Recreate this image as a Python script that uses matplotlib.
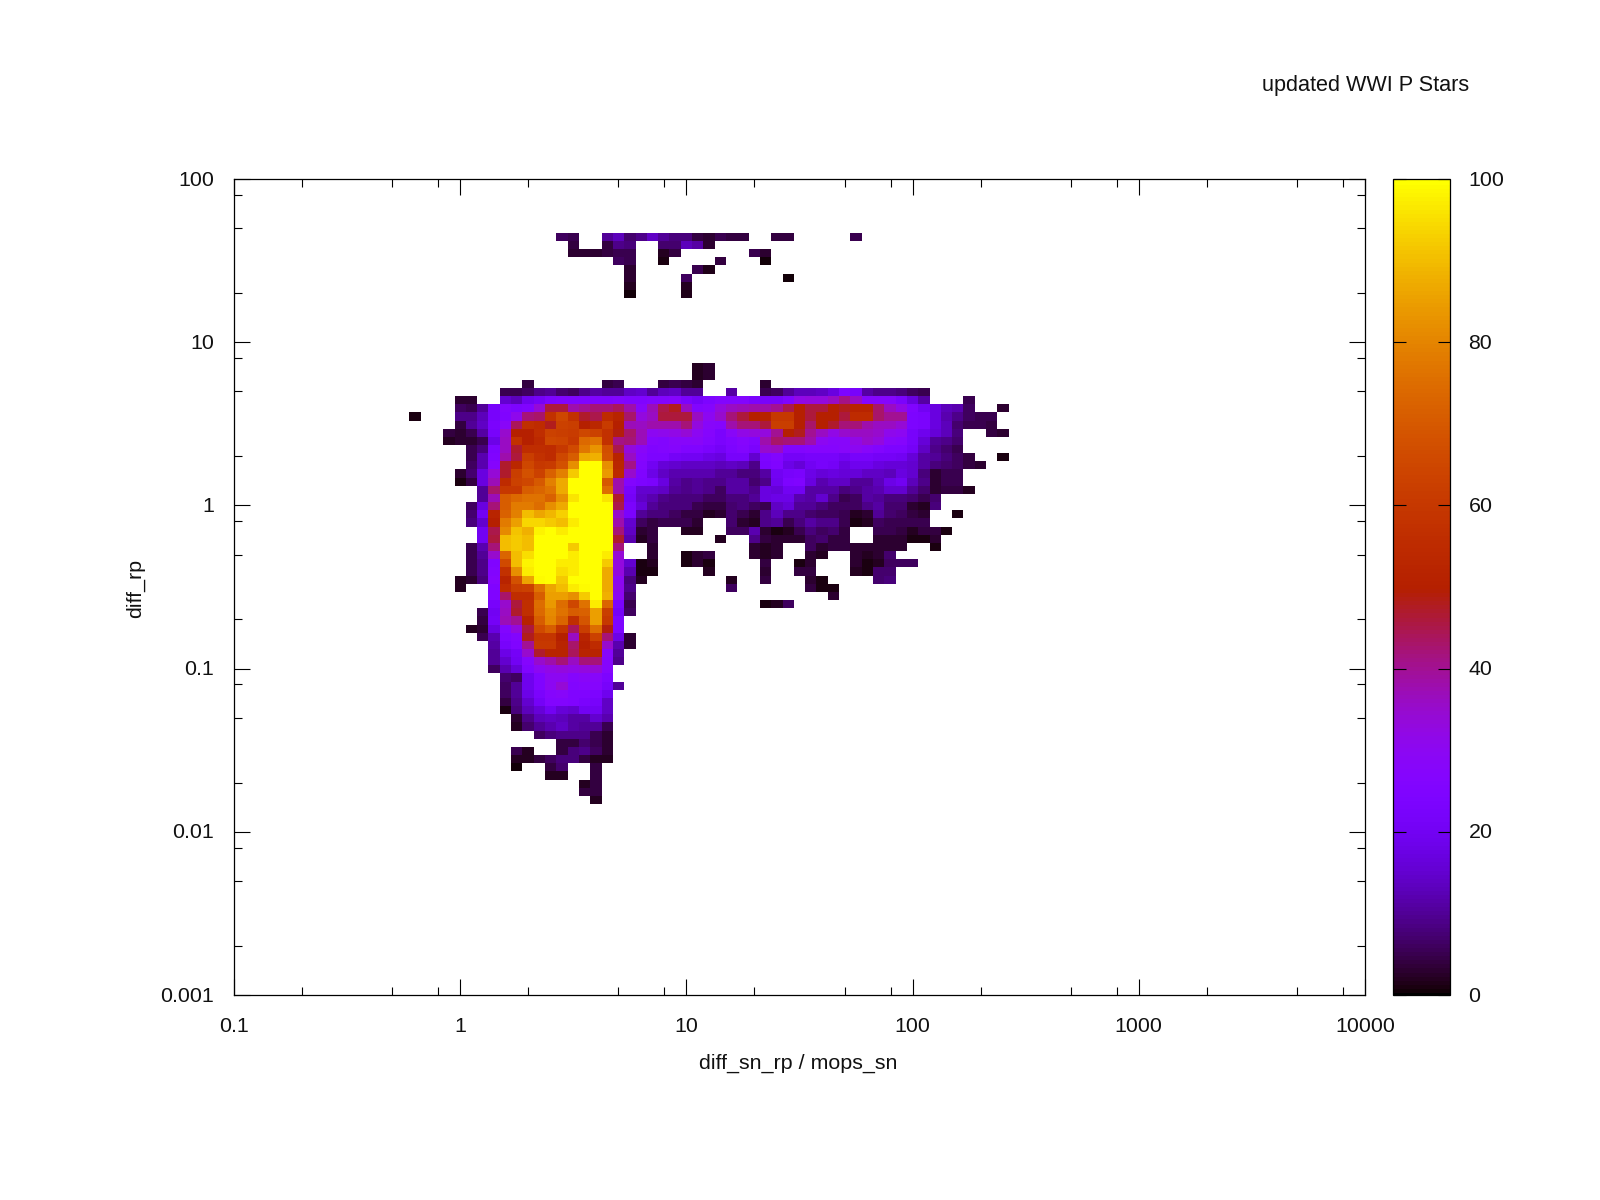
import numpy as np
import matplotlib
matplotlib.use("Agg")
import matplotlib.pyplot as plt
from matplotlib.colors import ListedColormap
from matplotlib.ticker import FixedLocator, NullFormatter
from matplotlib.transforms import ScaledTranslation

plt.rcParams['font.family'] = ['Liberation Sans', 'DejaVu Sans']

title_text = "updated WWI P Stars"
x_label = "diff_sn_rp / mops_sn"
y_label = "diff_rp"
x_ticks = [0.1, 1, 10, 100, 1000, 10000]
x_tick_labels = ["0.1", "1", "10", "100", "1000", "10000"]
y_ticks = [0.001, 0.01, 0.1, 1, 10, 100]
y_tick_labels = ["0.001", "0.01", "0.1", "1", "10", "100"]
cb_ticks = [0, 20, 40, 60, 80, 100]

n_cols = 70
n_rows = 100
bins_per_decade = 20
x_bin_shift = 0.5
y_bin_shift = 0.4

# each row: first column index, then the values; 0 is an empty cell
r92 = (28, [6,5,0,0,10,13,7,9,14,10,8,8,4,3,5,4,4,0,0,4,4,0,0,0,0,0,5])
r91 = (29, [4,0,0,4,9,8,0,0,7,7,13,11,3])
r90 = (29, [3,3,3,4,5,5,0,0,2,4,0,0,0,0,0,0,5,3])
r89 = (33, [6,5,0,0,1,0,0,0,0,4,0,0,0,0.5])
r88 = (34, [3,0,0,0,0,0,5,1.5])
r87 = (34, [3,0,0,0,0,6,0,0,0,0,0,0,0,0,0.5])
r86 = (34, [2,0,0,0,0,2])
r85 = (34, [0.5,0,0,0,0,1.5])
r76 = (40, [2,3])
r75 = (40, [2,3])
r74 = (25, [4,0,0,0,0,0,0,4,5,0,0,0,4,5,4,3,0,0,0,0,0,3])
r73 = (23, [5,5,6,9,10,7,6,9,11,10,10,14,15,10,13,14,10,10,0,0,11,0,0,5,6,10,13,13,14,17,24,22,11,9,9,8,6,5])
r72 = (19, [3,3,0,0,15,13,19,21,24,25,25,25,25,25,26,25,25,26,26,27,23,21,24,26,26,26,23,22,22,25,32,33,33,36,41,36,27,27,27,23,17,11,0,0,0,5])
r71 = (19, [6,5,10,22,26,24,25,34,46,46,38,40,42,42,44,38,28,37,45,48,36,26,27,33,36,37,38,38,40,45,50,46,46,50,48,52,52,43,36,32,25,20,17,13,12,6,0,0,3])
r70 = (15, [1,0,0,0,9,9,13,22,25,31,42,43,58,65,58,47,45,55,52,43,33,36,46,46,46,36,30,35,42,46,50,51,60,60,50,46,50,50,46,55,55,43,40,40,24,23,17,12,9,6,5,5])
r69 = (19, [4,10,14,23,29,44,57,55,48,63,62,50,53,61,50,37,36,38,38,38,42,33,28,27,38,42,42,46,62,62,50,43,50,47,42,42,38,36,36,34,24,23,17,13,7,5,5,4])
r68 = (18, [4,3,5,11,22,35,50,50,56,63,62,61,65,63,58,49,43,37,30,31,32,34,30,27,23,29,32,33,33,40,50,48,40,36,32,35,36,36,35,31,30,22,19,16,13,8,0,0,4,3])
r67 = (18, [2,3,3,5,18,36,58,50,54,65,64,60,74,76,58,41,42,37,27,26,28,28,29,26,23,25,27,25,38,43,42,42,38,30,28,28,32,35,33,28,27,22,16,10,9,7])
r66 = (20, [5,8,24,36,47,56,56,55,60,66,77,83,67,45,33,29,25,26,27,25,25,23,21,24,26,23,35,36,26,26,27,27,27,28,30,28,26,24,24,21,14,9,7,5])
r65 = (20, [5,12,25,38,46,62,58,55,65,71,87,88,68,52,36,27,24,24,21,20,20,18,17,22,22,15,24,26,21,21,22,22,22,20,22,22,21,21,20,16,11,10,8,6,4,0,0,1])
r64 = (20, [6,12,27,47,53,65,60,61,68,82,100,100,82,53,41,26,20,16,15,14,14,14,13,14,13,9,23,25,18,16,20,22,21,17,19,19,17,16,16,15,11,8,7,6,4,3])
r63 = (19, [3,7,17,34,47,62,68,63,72,79,92,100,100,84,54,35,25,18,14,12,12,12,12,10,10,8,8,11,20,22,23,18,16,17,16,16,14,14,13,17,15,8,3,5,5])
r62 = (19, [1,4,17,37,55,63,65,70,79,87,100,100,100,70,38,26,24,23,17,11,9,10,9,9,11,11,7,9,19,24,25,17,12,14,14,10,10,13,18,20,13,9,3,5,5])
r61 = (21, [10,43,60,60,71,73,76,87,100,100,100,75,38,22,15,15,14,10,9,10,9,6,11,11,9,17,16,20,20,11,11,11,8,9,11,12,15,15,10,7,3,4,4,2])
r60 = (21, [10,37,71,74,76,76,72,82,96,100,100,96,47,21,14,12,9,8,8,8,6,6,8,8,10,17,18,18,12,11,15,9,5,6,11,10,8,8,7,5,7])
r59 = (20, [6,17,42,71,78,78,75,82,87,100,100,100,100,45,23,16,10,8,8,8,5,4,4,7,8,6,5,14,16,10,10,8,6,6,6,9,11,7,7,3,2,8])
r58 = (20, [7,20,52,72,79,90,86,89,93,100,100,100,100,35,23,10,8,8,6,4,4,2,3,7,5,3,9,13,9,9,7,6,6,5,2,3,10,7,6,4,3,0,0,1])
r57 = (20, [8,15,50,78,85,94,94,92,90,97,100,100,100,38,15,6,4,5,5,5,3,0,0,7,3,2,9,10,5,8,11,9,9,5,1,2,6,5,5,5,5])
r56 = (21, [20,45,81,91,88,98,100,97,100,100,100,100,42,14,3,4,0,0,2,2,0,0,6,6,12,3,1,2,5,8,6,7,4,0,0,5,5,4,2,4,4,1])
r55 = (21, [20,46,90,92,90,100,100,100,100,100,100,100,47,12,2,4,0,0,0,0,0,2,0,0,9,4,3,3,3,6,7,4,4,0,0,3,3,3,1,1,3])
r54 = (20, [5,12,42,90,92,90,100,100,100,92,100,100,100,42,0,0,3,0,0,0,0,0,0,0,0,3,2,3,0,0,6,3,4,4,3,3,3,3,3,0,0,1])
r53 = (20, [5,10,35,73,90,95,100,100,100,97,100,100,97,34,0,0,3,0,0,1,3,4,0,0,0,3,2,3,0,0,3,2,0,0,3,2,3,7])
r52 = (20, [5,9,25,66,90,98,100,100,97,97,100,100,92,33,15,1,2,0,0,1,3,1,0,0,0,0,4,0,0,1,3,0,0,0,3,1,2,6,6,6])
r51 = (20, [5,9,26,58,82,97,100,100,95,97,100,100,87,33,12,1,1,0,0,0,0,2,0,0,0,0,3,0,0,4,4,0,0,0,2,1,7,7])
r50 = (19, [2,3,8,27,52,68,86,99,100,92,100,100,100,87,30,8,2,0,0,0,0,0,0,0,2,0,0,4,0,0,0,3,1,0,0,0,0,7,8])
r49 = (19, [2,0,0,25,55,62,63,76,86,90,97,99,100,87,31,9,0,0,0,0,0,0,0,0,6,0,0,0,0,0,0,4,1,1])
r48 = (22, [25,43,56,56,71,85,85,82,92,100,88,30,7,0,0,0,0,0,0,0,0,0,0,0,0,0,0,0,0,0,3])
r47 = (22, [22,35,46,57,75,84,75,65,76,97,73,23,5,0,0,0,0,0,0,0,0,0,0,0,1,2,6])
r46 = (21, [5,20,36,47,57,74,81,76,71,72,85,62,21,6])
r45 = (21, [4,21,37,40,51,71,80,73,57,69,85,60,24])
r44 = (20, [2,3,17,26,33,46,66,71,59,44,62,75,49,24])
r43 = (21, [5,12,24,26,48,59,59,50,36,52,63,42,18,3])
r42 = (22, [11,22,25,40,60,60,52,43,50,55,35,12,3])
r41 = (22, [10,18,21,35,47,52,52,44,52,52,28,10])
r40 = (22, [10,15,20,27,35,38,42,36,42,42,27,9])
r39 = (22, [6,12,16,25,30,32,33,32,33,34,27])
r38 = (23, [7,6,19,25,30,30,27,29,28,24])
r37 = (23, [6,10,19,25,30,34,26,27,27,22,10])
r36 = (23, [6,10,18,23,27,28,25,25,24,19])
r35 = (23, [4,9,15,21,26,26,25,23,22,14])
r34 = (23, [1,8,13,16,20,16,15,20,20,14])
r33 = (24, [3,9,13,14,13,11,11,15,12])
r32 = (24, [2,7,10,12,14,11,10,10,5])
r31 = (26, [6,8,9,9,9,5,3])
r30 = (28, [4,4,7,5,3])
r29 = (24, [5,2,0,0,4,8,9,6,3])
r28 = (24, [2,2,4,6,8,8,4,2,2])
r27 = (24, [0.5,0,0,4,7,0,0,4])
r26 = (27, [2,2,0,0,4])
r25 = (30, [2,4])
r24 = (30, [4,4])
r23 = (31, [2])

rows_by_index = {
    92: r92, 91: r91, 90: r90, 89: r89, 88: r88, 87: r87, 86: r86, 85: r85,
    76: r76, 75: r75, 74: r74, 73: r73, 72: r72, 71: r71, 70: r70, 69: r69,
    68: r68, 67: r67, 66: r66, 65: r65, 64: r64, 63: r63, 62: r62, 61: r61,
    60: r60, 59: r59, 58: r58, 57: r57, 56: r56, 55: r55, 54: r54, 53: r53,
    52: r52, 51: r51, 50: r50, 49: r49, 48: r48, 47: r47, 46: r46, 45: r45,
    44: r44, 43: r43, 42: r42, 41: r41, 40: r40, 39: r39, 38: r38, 37: r37,
    36: r36, 35: r35, 34: r34, 33: r33, 32: r32, 31: r31, 30: r30, 29: r29,
    28: r28, 27: r27, 26: r26, 25: r25, 24: r24, 23: r23,
}

grid = np.full((n_rows, n_cols), np.nan)
for r, (first, values) in rows_by_index.items():
    for k, v in enumerate(values):
        if v > 0:
            grid[r, first + k] = v

x_edges = 0.1 * 10 ** ((np.arange(n_cols + 1) + x_bin_shift) / bins_per_decade)
y_edges = 0.001 * 10 ** ((np.arange(n_rows + 1) + y_bin_shift) / bins_per_decade)

# gnuplot default pm3d palette (rgbformulae 7,5,15)
t = np.linspace(0, 1, 200)
palette = np.column_stack([np.sqrt(t), t ** 3, np.clip(np.sin(2 * np.pi * t), 0, 1)])
cmap = ListedColormap(palette)
cmap.set_bad((1, 1, 1, 0))

W, H = 1600, 1200
fig = plt.figure(figsize=(16, 12), dpi=100, facecolor='white')
L, R, T, B = 234, 1365, 179, 995
ax = fig.add_axes([L / W, 1 - B / H, (R - L) / W, (B - T) / H])
mesh = ax.pcolormesh(x_edges, y_edges, grid, cmap=cmap, vmin=0, vmax=100,
                     antialiased=False, linewidth=0, rasterized=True)
ax.set_xscale('log')
ax.set_yscale('log')
ax.set_xlim(x_ticks[0], x_ticks[-1])
ax.set_ylim(y_ticks[0], y_ticks[-1])

minor_subs = [2, 5, 8]
ax.xaxis.set_major_locator(FixedLocator(x_ticks))
ax.yaxis.set_major_locator(FixedLocator(y_ticks))
ax.xaxis.set_minor_locator(FixedLocator([d * s for d in x_ticks[:-1] for s in minor_subs]))
ax.yaxis.set_minor_locator(FixedLocator([d * s for d in y_ticks[:-1] for s in minor_subs]))
ax.xaxis.set_minor_formatter(NullFormatter())
ax.yaxis.set_minor_formatter(NullFormatter())
ax.set_xticklabels(x_tick_labels)
ax.set_yticklabels(y_tick_labels)
ax.tick_params(which='major', direction='in', top=True, right=True, length=11.5, width=0.8,
               labelsize=15.4, color='black', labelcolor='#111111')
ax.tick_params(which='minor', direction='in', top=True, right=True, length=5.8, width=0.8)
ax.tick_params(axis='x', which='major', pad=15.7)
ax.tick_params(axis='y', which='major', pad=14.3)
for s in ax.spines.values():
    s.set_linewidth(0.9)

cax = fig.add_axes([1393 / W, 1 - B / H, (1450 - 1393) / W, (B - T) / H])
cb = fig.colorbar(mesh, cax=cax, ticks=cb_ticks)
cb.outline.set_linewidth(0.9)
cb.solids.set_edgecolor('face')
cax.minorticks_off()
cax.tick_params(which='major', direction='in', left=True, right=True, length=9, width=0.8,
                labelsize=15.4, pad=13.3, color='black', labelcolor='#111111')

# the reference's vertical-axis labels sit slightly above their ticks
label_lift = ScaledTranslation(0, 1 / 100, fig.dpi_scale_trans)
for lab in ax.get_yticklabels() + cax.get_yticklabels():
    lab.set_transform(lab.get_transform() + label_lift)

fig.text(1469 / W, 1 - 85 / H, title_text, ha='right', va='center', fontsize=15.6, color='#111111')
fig.text(798 / W, 1 - 1063 / H, x_label, ha='center', va='center', fontsize=15.4, color='#111111')
fig.text(135 / W, 1 - 588 / H, y_label, ha='center', va='center', rotation=90, fontsize=15.4, color='#111111')

fig.savefig('out.png', dpi=100, facecolor='white')
